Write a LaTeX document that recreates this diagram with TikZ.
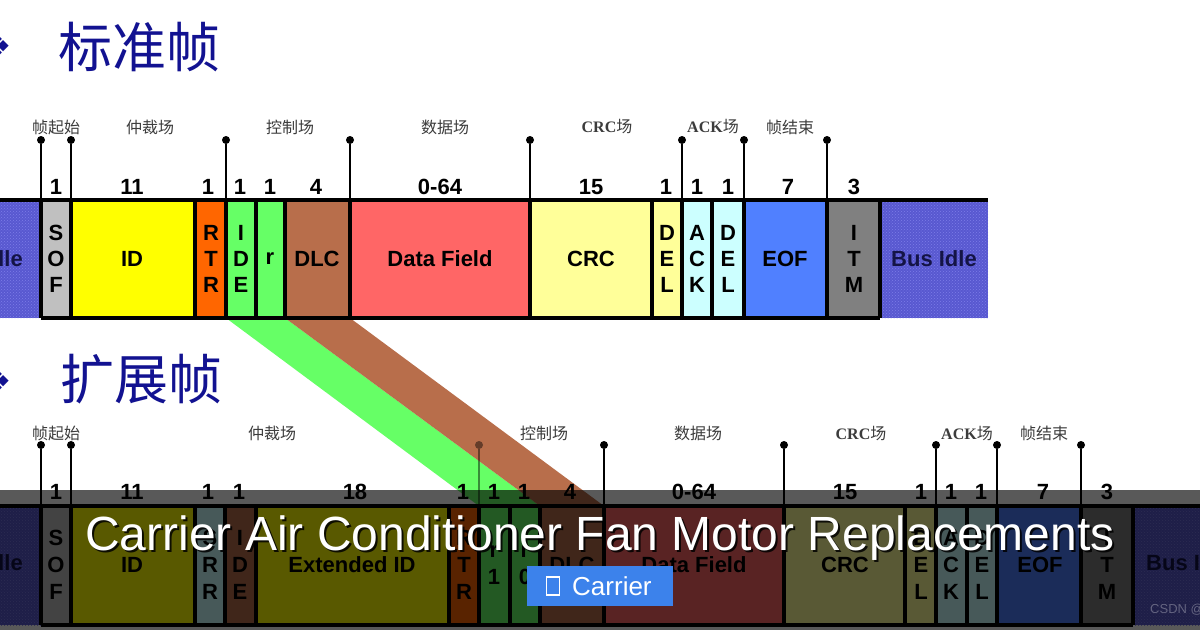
\documentclass[tikz,border=0pt]{standalone}
\usepackage{fontspec}
\setmainfont{Liberation Sans}
\setsansfont{Liberation Sans}
\newfontfamily\cjk{Noto Sans CJK SC}
\newfontfamily\lser{Liberation Serif}
\newfontfamily\djv{DejaVu Sans}
\usetikzlibrary{patterns}
\definecolor{idlebase}{RGB}{88,88,208}
\definecolor{idledot}{RGB}{125,125,232}
\definecolor{idletext}{RGB}{20,20,70}
\definecolor{sofgray}{RGB}{192,192,192}
\definecolor{idyellow}{RGB}{255,255,0}
\definecolor{rtrorange}{RGB}{255,102,0}
\definecolor{idegreen}{RGB}{102,255,102}
\definecolor{dlcbrown}{RGB}{184,110,75}
\definecolor{datared}{RGB}{255,102,102}
\definecolor{crcyellow}{RGB}{255,255,153}
\definecolor{ackcyan}{RGB}{204,255,255}
\definecolor{eofblue}{RGB}{80,128,255}
\definecolor{itmgray}{RGB}{128,128,128}
\definecolor{titleblue}{RGB}{18,18,145}
\definecolor{lblgray}{RGB}{60,60,60}
\definecolor{btnblue}{RGB}{60,130,235}
\begin{document}
\begin{tikzpicture}[x=1pt,y=-1pt,
  sep/.style={line width=3.2pt,black},
  edge/.style={line width=3.4pt,black},
  pinline/.style={line width=2pt,black},
  pindot/.style={circle,fill=black,inner sep=0pt,minimum size=8pt},
  bits/.style={font=\bfseries\fontsize{22}{22}\selectfont,inner sep=0pt},
  boxtxt/.style={font=\bfseries\fontsize{22}{26}\selectfont,align=center,inner sep=0pt},
  boxtxtb/.style={font=\bfseries\fontsize{22}{27}\selectfont,align=center,inner sep=0pt},
  lbl/.style={font=\cjk\fontsize{16}{16}\selectfont,text=lblgray,inner sep=0pt},
  ttl/.style={font=\cjk\fontsize{54}{54}\selectfont,text=titleblue,inner sep=0pt},
  bul/.style={font=\djv\fontsize{34}{34}\selectfont,text=titleblue,inner sep=0pt}]
\useasboundingbox (0,0) rectangle (1200,630);
\clip (0,0) rectangle (1200,630);
\fill[white] (0,0) rectangle (1200,630);

% ---------- titles ----------
\node[bul] (b1) at (-3,46) {❖};
\node[ttl] (t1) at (139,47) {标准帧};
\node[bul] (b2) at (-3,381) {❖};
\node[ttl] (t2) at (141,379) {扩展帧};

% ---------- standard frame fields ----------
\foreach \a/\b/\c in {41/71/sofgray,71/195/idyellow,195/226/rtrorange,226/256/idegreen,256/285/idegreen,285/350/dlcbrown,350/530/datared,530/652/crcyellow,652/682/crcyellow,682/712/ackcyan,712/744/ackcyan,744/827/eofblue,827/880/itmgray}
  \fill[\c] (\a,200) rectangle (\b,318);
\foreach \a/\b in {-60/41,880/988}{
  \fill[idlebase] (\a,200) rectangle (\b,318);
  \fill[pattern=crosshatch dots,pattern color=idledot] (\a,200) rectangle (\b,318);}

% ---------- extended frame fields ----------
\foreach \a/\b/\c in {41/71/sofgray,71/195/idyellow,195/225/ackcyan,225/256/dlcbrown,256/449/idyellow,449/479/rtrorange,479/510/idegreen,510/540/idegreen,540/604/dlcbrown,604/784/datared,784/905/crcyellow,905/936/crcyellow,936/967/ackcyan,967/997/ackcyan,997/1081/eofblue,1081/1133/itmgray}
  \fill[\c] (\a,506) rectangle (\b,625);
\foreach \a/\b in {-60/41,1133/1260}{
  \fill[idlebase] (\a,506) rectangle (\b,625);
  \fill[pattern=crosshatch dots,pattern color=idledot] (\a,506) rectangle (\b,625);}

% ---------- mapping bands ----------
\fill[idegreen] (226,318) -- (285,318) -- (540,506) -- (479,506) -- cycle;
\fill[dlcbrown] (285,318) -- (350,318) -- (604,506) -- (540,506) -- cycle;

% ---------- frame outlines ----------
\draw[edge] (0,200) -- (988,200);
\draw[edge] (41,318) -- (880,318);
\foreach \x in {41,71,195,226,256,285,350,530,652,682,712,744,827,880}
  \draw[sep] (\x,200) -- (\x,318);
\draw[edge] (0,506) -- (1200,506);
\draw[edge] (41,625) -- (1133,625);
\foreach \x in {41,71,195,225,256,449,479,510,540,604,784,905,936,967,997,1081,1133}
  \draw[sep] (\x,506) -- (\x,625);

% ---------- pins ----------
\foreach \x [count=\i] in {41,71,226,350,530,682,744,827}{
  \node[pindot] (tp\i) at (\x,140) {};
  \coordinate (tq\i) at (\x,200);
  \draw[pinline] (tp\i) -- (tq\i);}
\foreach \x [count=\i] in {41,71,604,784,936,997,1081}{
  \node[pindot] (bp\i) at (\x,445) {};
  \coordinate (bq\i) at (\x,506);
  \draw[pinline] (bp\i) -- (bq\i);}
\node[pindot,opacity=0.45] (bp8) at (479,445) {};
\coordinate (bq8) at (479,506);
\draw[pinline,opacity=0.45] (bp8) -- (bq8);

% ---------- field labels ----------
\foreach \x/\t [count=\i] in {56/帧起始,150/仲裁场,290/控制场,445/数据场,607/{{\lser\bfseries CRC}场},713/{{\lser\bfseries ACK}场},790/帧结束}
  \node[lbl] (tl\i) at (\x,127) {\t};
\foreach \x/\t [count=\i] in {56/帧起始,272/仲裁场,544/控制场,698/数据场,861/{{\lser\bfseries CRC}场},967/{{\lser\bfseries ACK}场},1044/帧结束}
  \node[lbl] (bl\i) at (\x,433) {\t};

% ---------- bit counts ----------
\foreach \x/\t [count=\i] in {56/1,132/11,208/1,240/1,270/1,316/4,440/0-64,591/15,666/1,697/1,728/1,788/7,854/3}
  \node[bits] (tn\i) at (\x,187) {\t};
\foreach \x/\t [count=\i] in {56/1,132/11,208/1,239/1,355/18,463/1,494/1,524/1,570/4,694/0-64,845/15,921/1,951/1,981/1,1043/7,1107/3}
  \node[bits] (bn\i) at (\x,492) {\t};

% ---------- box texts ----------
\foreach \x/\t [count=\i] in {56/{S\\O\\F},132/ID,211/{R\\T\\R},241/{I\\D\\E},270/r,317/DLC,440/Data Field,591/CRC,667/{D\\E\\L},697/{A\\C\\K},728/{D\\E\\L},785/EOF,854/{I\\T\\M}}
  \node[boxtxt] (tx\i) at (\x,259) {\t};
\node[boxtxt,text=idletext] (txl) at (-20,259) {Bus Idle};
\node[boxtxt,text=idletext] (txr) at (934,259) {Bus Idle};
\foreach \x/\t [count=\i] in {56/{S\\O\\F},132/ID,210/{S\\R\\R},240/{I\\D\\E},352/Extended ID,464/{R\\T\\R},494/{r\\1},525/{r\\0},572/DLC,694/Data Field,845/CRC,921/{D\\E\\L},951/{A\\C\\K},982/{D\\E\\L},1040/EOF,1107/{I\\T\\M}}
  \node[boxtxtb] (bx\i) at (\x,565) {\t};
\node[boxtxtb,text=idletext] (bxl) at (-20,563) {Bus Idle};
\node[boxtxtb,text=idletext] (bxr) at (1189,563) {Bus Idle};

% ---------- dark overlay banner ----------
\fill[black,opacity=0.65] (0,490) rectangle (1200,630);
\node[font=\fontsize{13}{13}\selectfont,text=white,opacity=0.3,anchor=west,inner sep=0pt] (wm) at (1150,610) {CSDN @};
\node[font=\fontsize{48}{48}\selectfont,text=black,opacity=0.85,inner sep=0pt] (hs) at (602,540) {Carrier Air Conditioner Fan Motor Replacements};
\node[font=\fontsize{48}{48}\selectfont,text=white,inner sep=0pt] (hd) at (600,538) {Carrier Air Conditioner Fan Motor Replacements};
\node[fill=btnblue,minimum width=146pt,minimum height=40pt,inner sep=0pt] (btn) at (600,586) {};
\draw[white,line width=1.2pt] (546.5,577) rectangle (559.5,595);
\node[font=\fontsize{26}{26}\selectfont,text=white,anchor=west,inner sep=0pt] (btxt) at (572,586) {Carrier};
\end{tikzpicture}
\end{document}
